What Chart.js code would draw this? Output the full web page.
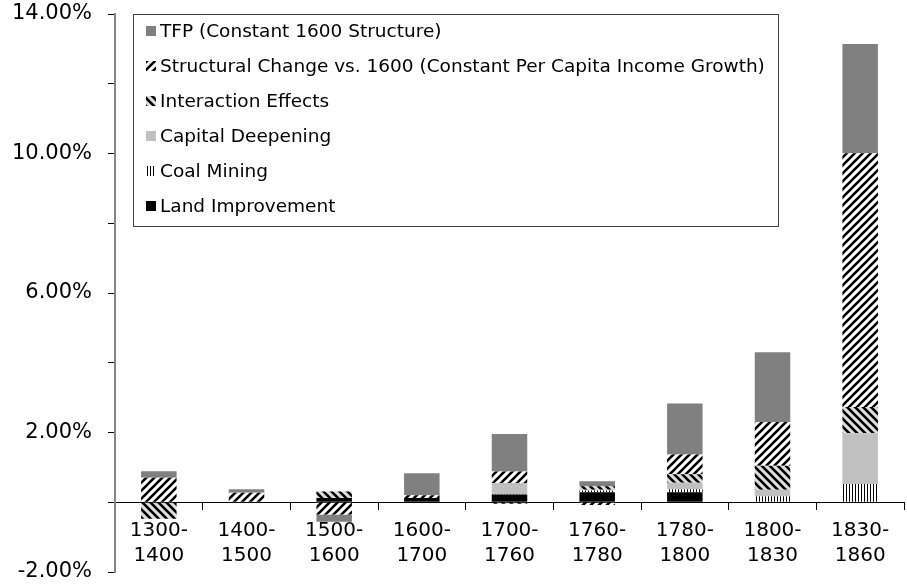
<!DOCTYPE html>
<html>
<head>
<meta charset="utf-8">
<script src="https://cdn.jsdelivr.net/npm/chart.js@4/dist/chart.umd.min.js"></script>
<style>
  html, body { margin: 0; padding: 0; background: #fff; }
  #chart { display: block; }
</style>
</head>
<body>
<canvas id="chart" width="907" height="585"></canvas>
<script>
// periods on the x axis (two-line labels)
const periods = [
  ["1300-", "1400"], ["1400-", "1500"], ["1500-", "1600"], ["1600-", "1700"],
  ["1700-", "1760"], ["1760-", "1780"], ["1780-", "1800"], ["1800-", "1830"],
  ["1830-", "1860"]
];

// contributions to growth, in percent
const landImprovement = [0, 0, 0.12, 0.12, 0.22, 0.29, 0.29, 0, 0];
const coalMining = [0, 0, 0, 0, 0.02, 0.05, 0.08, 0.17, 0.52];
const capitalDeepening = [0, 0, 0, 0, 0.31, 0.02, 0.19, 0.19, 1.46];
const interactionEffects = [-0.47, 0, 0.19, 0, -0.04, 0.10, 0.24, 0.69, 0.75];
const structuralChange = [0.70, 0.27, -0.35, 0.08, 0.33, -0.08, 0.57, 1.25, 7.28];
const tfp = [0.19, 0.10, -0.21, 0.63, 1.08, 0.14, 1.46, 2.00, 3.13];

const yTickLabels = ["-2.00%", "2.00%", "6.00%", "10.00%", "14.00%"];

const FONT = "'DejaVu Sans', Verdana, sans-serif";

function stripePattern(bg, fg, dir) {
  const s = 8;
  const c = document.createElement("canvas");
  c.width = s;
  c.height = s;
  const g = c.getContext("2d");
  g.fillStyle = bg;
  g.fillRect(0, 0, s, s);
  g.strokeStyle = fg;
  g.lineWidth = 2.6;
  g.beginPath();
  if (dir === "/") {
    g.moveTo(0, s); g.lineTo(s, 0);
    g.moveTo(-s / 2, s / 2); g.lineTo(s / 2, -s / 2);
    g.moveTo(s / 2, s * 1.5); g.lineTo(s * 1.5, s / 2);
  } else {
    g.moveTo(0, 0); g.lineTo(s, s);
    g.moveTo(-s / 2, s / 2); g.lineTo(s / 2, s * 1.5);
    g.moveTo(s / 2, -s / 2); g.lineTo(s * 1.5, s / 2);
  }
  g.stroke();
  return g.createPattern(c, "repeat");
}

function verticalPattern() {
  const c = document.createElement("canvas");
  c.width = 3;
  c.height = 3;
  const g = c.getContext("2d");
  g.fillStyle = "#fff";
  g.fillRect(0, 0, 3, 3);
  g.fillStyle = "#000";
  g.fillRect(0, 0, 1, 3);
  return g.createPattern(c, "repeat");
}

// legend drawn as a framed box inside the plot area
const boxLegend = {
  id: "boxLegend",
  afterDraw(chart) {
    const ctx = chart.ctx;
    const x = 133, y = 14, w = 645, h = 212;
    ctx.save();
    ctx.fillStyle = "#fff";
    ctx.fillRect(x, y, w, h);
    ctx.strokeStyle = "#404040";
    ctx.lineWidth = 1;
    ctx.strokeRect(x + 0.5, y + 0.5, w, h);
    ctx.font = "18.5px " + FONT;
    ctx.textBaseline = "middle";
    const items = chart.data.datasets.slice().reverse();
    items.forEach((ds, i) => {
      const cy = y + 17 + i * 35;
      ctx.fillStyle = ds.backgroundColor;
      ctx.fillRect(x + 13, cy - 5, 10, 10);
      ctx.fillStyle = "#000";
      ctx.fillText(ds.label, x + 27, cy + 1);
    });
    ctx.restore();
  }
};

const ctx = document.getElementById("chart").getContext("2d");

new Chart(ctx, {
  type: "bar",
  data: {
    labels: periods,
    datasets: [
      { label: "Land Improvement", data: landImprovement, backgroundColor: "#000000" },
      { label: "Coal Mining", data: coalMining, backgroundColor: verticalPattern() },
      { label: "Capital Deepening", data: capitalDeepening, backgroundColor: "#c0c0c0" },
      { label: "Interaction Effects", data: interactionEffects, backgroundColor: stripePattern("#dcdcdc", "#000", "\\") },
      { label: "Structural Change vs. 1600 (Constant Per Capita Income Growth)", data: structuralChange, backgroundColor: stripePattern("#ffffff", "#000", "/") },
      { label: "TFP (Constant 1600 Structure)", data: tfp, backgroundColor: "#808080" }
    ]
  },
  options: {
    responsive: false,
    animation: false,
    devicePixelRatio: 1,
    categoryPercentage: 1,
    barPercentage: 0.405,
    layout: { padding: { left: 0, right: 3, top: 14, bottom: 13 } },
    plugins: {
      legend: { display: false },
      tooltip: { enabled: false }
    },
    scales: {
      x: {
        stacked: true,
        position: { y: 0 },
        afterFit: (scale) => { scale.height = 0; },
        border: { display: true, color: "#000", width: 1 },
        grid: {
          offset: true,
          drawOnChartArea: false,
          drawTicks: true,
          tickLength: 7,
          tickColor: "#000",
          color: "#000"
        },
        ticks: {
          color: "#000",
          padding: 9,
          maxRotation: 0,
          font: { family: FONT, size: 20, lineHeight: 1.25 }
        }
      },
      y: {
        stacked: true,
        min: -2,
        max: 14,
        afterFit: (scale) => {
          scale.width = 115;
          scale.paddingTop = 0;
          scale.paddingBottom = 0;
        },
        border: { display: true, color: "#868686", width: 2 },
        grid: {
          drawOnChartArea: false,
          drawTicks: true,
          tickLength: 7,
          tickColor: "#000"
        },
        ticks: {
          stepSize: 2,
          color: "#000",
          padding: 16,
          font: { family: FONT, size: 21 },
          callback: (v) => {
            const s = Number(v).toFixed(2) + "%";
            return yTickLabels.includes(s) ? s : "";
          }
        }
      }
    }
  },
  plugins: [boxLegend]
});
</script>
</body>
</html>
